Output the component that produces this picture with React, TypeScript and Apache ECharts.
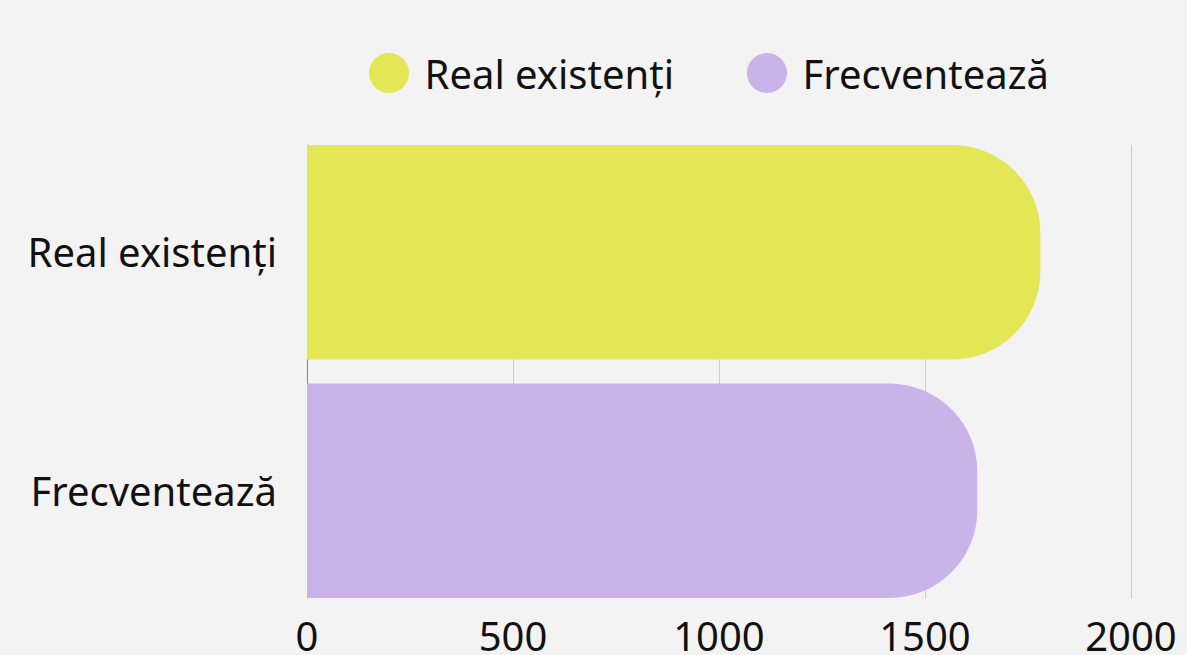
import React, { useEffect, useRef } from "react";
import * as echarts from "echarts";

const categories = ["Real existenți", "Frecventează"];
const seriesNames = ["Real existenți", "Frecventează"];
const realValues: (number | string)[] = [1780, "-"];
const frecValues: (number | string)[] = ["-", 1627];
const colors = ["#e3e655", "#c9b3e8"];
const xMin = 0;
const xMax = 2000;
const xInterval = 500;

export default function App() {
  const ref = useRef<HTMLDivElement>(null);
  useEffect(() => {
    if (!ref.current) return;
    const chart = echarts.init(ref.current, null, { renderer: "svg" });
    const font = "'Noto Sans', 'Open Sans', sans-serif";
    chart.setOption({
      animation: false,
      backgroundColor: "#f3f3f3",
      textStyle: { fontFamily: font },
      legend: {
        left: 369,
        top: 53,
        padding: 0,
        icon: "circle",
        itemWidth: 41,
        itemHeight: 40,
        itemGap: 73,
        textStyle: { fontSize: 40, color: "#111", fontFamily: font, padding: [0, 0, 6, 10] },
        data: seriesNames,
      },
      grid: { left: 307, right: 56, top: 145, bottom: 55, containLabel: false },
      xAxis: {
        type: "value",
        min: xMin,
        max: xMax,
        interval: xInterval,
        axisLine: { show: false },
        axisTick: { show: false },
        splitLine: { show: true, lineStyle: { color: "#cccccc", width: 1 } },
        axisLabel: {
          fontSize: 40,
          color: "#111",
          margin: 17,
          fontFamily: font,
          formatter: (v: number) => String(v),
        },
      },
      yAxis: {
        type: "category",
        inverse: true,
        data: categories,
        axisLine: { show: true, lineStyle: { color: "#888", width: 1 } },
        axisTick: { show: false },
        axisLabel: {
          fontSize: 40,
          color: "#111",
          margin: 30,
          fontFamily: font,
          formatter: (v: string, i: number) => (i === 0 ? `{up|${v}}` : `{down|${v}}`),
          rich: {
            up: { fontSize: 40, color: "#111", fontFamily: font, padding: [0, 0, 13, 0] },
            down: { fontSize: 40, color: "#111", fontFamily: font, padding: [11, 0, 0, 0] },
          },
        },
      },
      series: [
        {
          name: seriesNames[0],
          type: "bar",
          data: realValues,
          barWidth: 215,
          barGap: "-94.19%",
          itemStyle: { color: colors[0], borderRadius: [0, 88, 88, 0] },
        },
        {
          name: seriesNames[1],
          type: "bar",
          data: frecValues,
          barWidth: 215,
          barGap: "-94.19%",
          itemStyle: { color: colors[1], borderRadius: [0, 88, 88, 0] },
        },
      ],
    });
    return () => chart.dispose();
  }, []);
  return (
    <div
      ref={ref}
      style={{ position: "absolute", left: 0, top: 0, width: 1187, height: 655 }}
    />
  );
}
